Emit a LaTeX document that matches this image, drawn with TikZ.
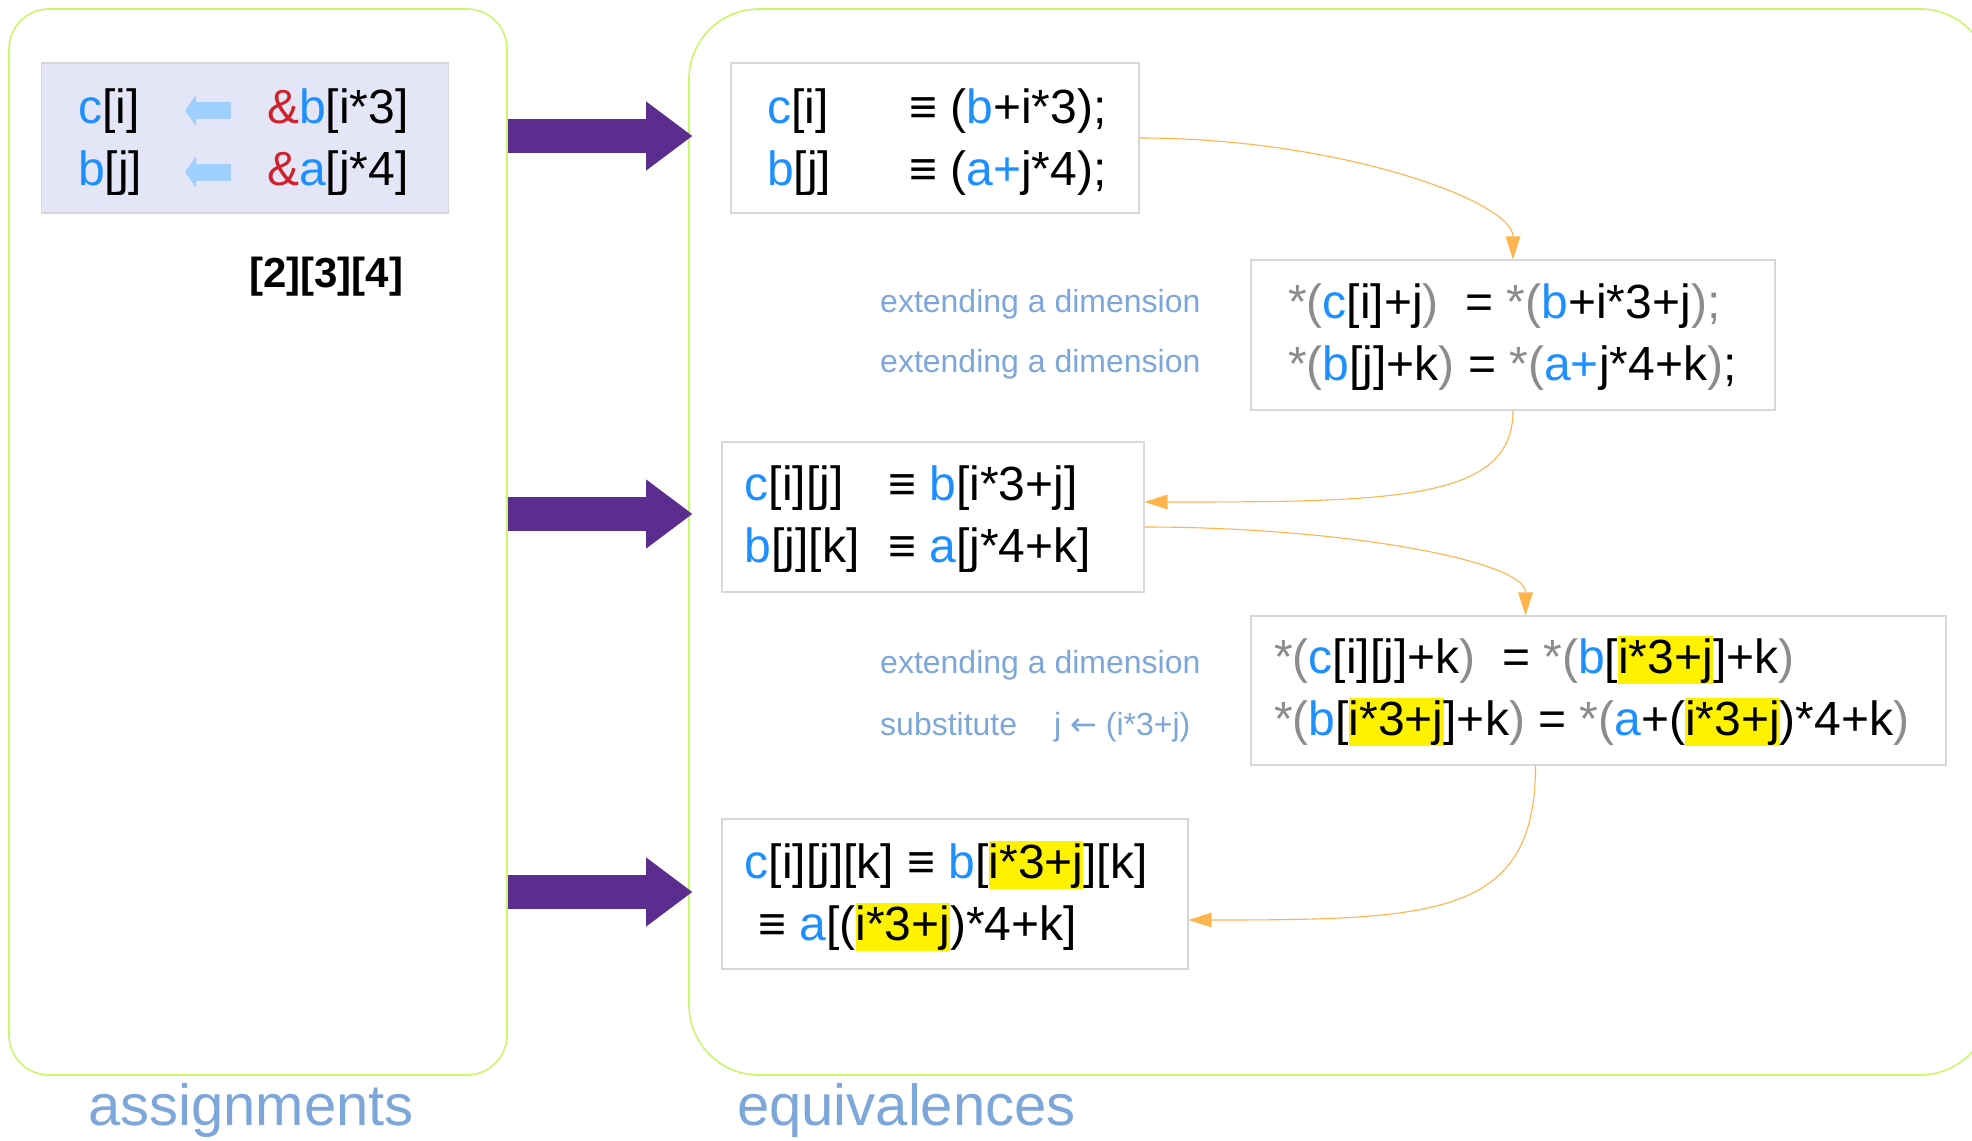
\documentclass[tikz,border=0pt]{standalone}
\usepackage{fontspec}
\setmainfont{Liberation Sans}
\newfontfamily\dejavu{DejaVu Sans}
\usetikzlibrary{arrows.meta,calc}
\definecolor{bl}{HTML}{1E8FFF}
\definecolor{gy}{HTML}{8C8C8C}
\definecolor{rd}{HTML}{D0202A}
\definecolor{lbl}{HTML}{7DA6DA}
\definecolor{orng}{HTML}{FFB44C}
\definecolor{limeg}{HTML}{CCF56E}
\definecolor{bgr}{HTML}{D8D8D8}
\definecolor{lav}{HTML}{E5E5F8}
\definecolor{purp}{HTML}{5B2D8E}
\definecolor{lbarr}{HTML}{9FCFFF}
\newcommand\blu[1]{\textcolor{bl}{#1}}
\newcommand\gry[1]{\textcolor{gy}{#1}}
\newcommand\rdd[1]{\textcolor{rd}{#1}}
\newcommand\hil[1]{{\setlength{\fboxsep}{0pt}\colorbox{yellow}{\rule[-11pt]{0pt}{48pt}#1}}}
\tikzset{
 contbox/.style={draw=limeg, line width=1.6pt, inner sep=0pt},
 codebox/.style={draw=bgr, line width=1.2pt, fill=white, inner sep=0pt},
 codetxt/.style={anchor=base west, inner sep=0pt, font=\fontsize{48}{58}\selectfont},
 notetxt/.style={anchor=base west, inner sep=0pt, text=lbl, font=\fontsize{32}{38}\selectfont},
 titletxt/.style={anchor=base west, inner sep=0pt, text=lbl, font=\fontsize{58}{70}\selectfont},
 conn/.style={draw=orng, line width=1.1pt, -{Triangle[length=23pt,width=15pt,line width=0pt]}},
 bigarrow/.style={draw=purp, line width=34pt, -{Triangle[length=46pt,width=69pt,line width=0pt]}},
 smallarrow/.style={draw=lbarr, line width=17pt, -{Triangle[length=11pt,width=31pt,line width=0pt]}},
}
\begin{document}
\begin{tikzpicture}[x=1pt,y=-1pt]
\useasboundingbox (0,0) rectangle (1972,1140);
\clip (0,0) rectangle (1972,1140);
% containers
\node[contbox, minimum width=498pt, minimum height=1066pt, rounded corners=40pt] (left) at (258,542) {};
\node[contbox, minimum width=1301pt, minimum height=1066pt, rounded corners=70pt] (right) at (1339.5,542) {};
\node[titletxt] (tA) at (88,1125) {assignments};
\node[titletxt] (tE) at (737,1125) {equivalences};
% purple arrows
\coordinate (y1) at (0,136);
\coordinate (y2) at (0,514);
\coordinate (y3) at (0,892);
\draw[bigarrow] (left.east |- y1) -- ($(right.west |- y1)+(4,0)$);
\draw[bigarrow] (left.east |- y2) -- ($(right.west |- y2)+(4,0)$);
\draw[bigarrow] (left.east |- y3) -- ($(right.west |- y3)+(4,0)$);
% box A
\node[codebox, fill=lav, minimum width=407pt, minimum height=150pt] (bA) at (245,138) {};
\node[codetxt] (a1l) at (78,123) {\blu{c}[i]};
\node[codetxt] (a1r) at (267,123) {\rdd{\&}\blu{b}[i*3]};
\node[codetxt] (a2l) at (78,185) {\blu{b}[j]};
\node[codetxt] (a2r) at (267,185) {\rdd{\&}\blu{a}[j*4]};
\coordinate (ar1s) at (231,110.5);
\coordinate (ar1e) at (185,110.5);
\coordinate (ar2s) at (231,172);
\coordinate (ar2e) at (185,172);
\draw[smallarrow] (ar1s) -- (ar1e);
\draw[smallarrow] (ar2s) -- (ar2e);
\node[anchor=base west, inner sep=0pt, font=\fontsize{42}{50}\selectfont\bfseries] (dims) at (249,287) {[2][3][4]};
% box B
\node[codebox, minimum width=408pt, minimum height=150pt] (bB) at (935,138) {};
\node[codetxt] (b1l) at (767,123) {\blu{c}[i]};
\node[codetxt] (b1r) at (909,123) {≡ (\blu{b}+i*3);};
\node[codetxt] (b2l) at (767,185) {\blu{b}[j]};
\node[codetxt] (b2r) at (909,185) {≡ (\blu{a+}j*4);};
% box C
\node[codebox, minimum width=524pt, minimum height=150pt] (bC) at (1513,335) {};
\node[codetxt] (c1) at (1288,318) {\gry{*(}\blu{c}[i]+j\gry{)}\ \ = \gry{*(}\blu{b}+i*3+j\gry{);}};
\node[codetxt] (c2) at (1288,380) {\gry{*(}\blu{b}[j]+k\gry{)} = \gry{*(}\blu{a+}j*4+k\gry{)};};
\node[notetxt] (n1) at (880,312) {extending a dimension};
\node[notetxt] (n2) at (880,372) {extending a dimension};
% box D
\node[codebox, minimum width=422pt, minimum height=150pt] (bD) at (933,517) {};
\node[codetxt] (d1l) at (744.5,500) {\blu{c}[i][j]};
\node[codetxt] (d1r) at (888,500) {≡ \blu{b}[i*3+j]};
\node[codetxt] (d2l) at (744.5,562) {\blu{b}[j][k]};
\node[codetxt] (d2r) at (888,562) {≡ \blu{a}[j*4+k]};
% box E
\node[codebox, minimum width=695pt, minimum height=149pt] (bE) at (1598.5,690.5) {};
\node[codetxt] (e1) at (1274,673) {\gry{*(}\blu{c}[i][j]+k\gry{)}\ \ = \gry{*(}\blu{b}[\hil{i*3+j}]+k\gry{)}};
\node[codetxt] (e2) at (1274,735) {\gry{*(}\blu{b}[\hil{i*3+j}]+k\gry{)} = \gry{*(}\blu{a}+(\hil{i*3+j})*4+k\gry{)}};
\node[notetxt] (n3) at (880,673) {extending a dimension};
\node[notetxt] (n4) at (880,735) {substitute\hspace{37pt}j {\dejavu ←} (i*3+j)};
% box F
\node[codebox, minimum width=466pt, minimum height=150pt] (bF) at (955,894) {};
\node[codetxt] (f1) at (744.5,878) {\blu{c}[i][j][k] ≡ \blu{b}[\hil{i*3+j}][k]};
\node[codetxt] (f2) at (758,940) {≡ \blu{a}[(\hil{i*3+j})*4+k]};
% orange connectors
\coordinate (pD1) at ($(bD.east)+(0,-15)$);
\coordinate (pD2) at ($(bD.east)+(0,10)$);
\coordinate (pEn) at ($(bE.north)+(-73,0)$);
\coordinate (pEs) at ($(bE.south)+(-63,0)$);
\coordinate (pF) at ($(bF.east)+(0,26)$);
\draw[conn] (bB.east) .. controls +(200,0) and +(0,-58) .. (bC.north);
\draw[conn] (bC.south) .. controls +(0,90) and +(250,0) .. (pD1);
\draw[conn] (pD2) .. controls +(196,0) and +(0,-55) .. (pEn);
\draw[conn] (pEs) .. controls +(0,150) and +(250,0) .. (pF);
\end{tikzpicture}
\end{document}
